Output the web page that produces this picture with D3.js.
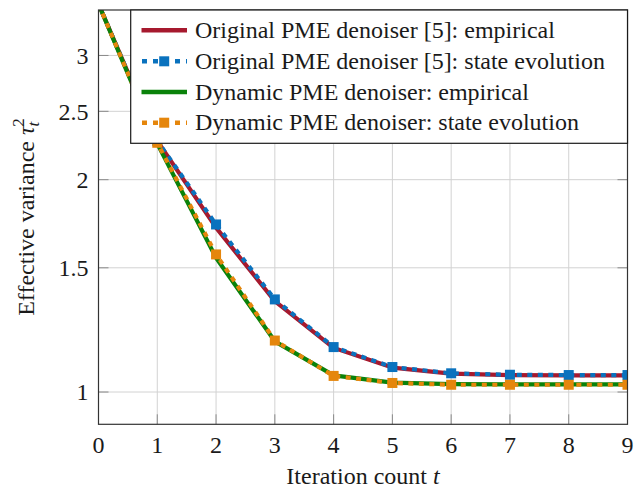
<!DOCTYPE html>
<html>
<head>
<meta charset="utf-8">
<script src="https://cdn.jsdelivr.net/npm/d3@7"></script>
</head>
<body style="margin:0">
<svg id="chart" width="634" height="487" style="display:block"></svg>
<script>
// ---- data ----
const iterations = [0, 1, 2, 3, 4, 5, 6, 7, 8, 9];
const origEmpirical = [3.55, 2.27, 1.71, 1.345, 1.155, 1.083, 1.062, 1.057, 1.056, 1.056];
const origStateEvolution = [3.55, 2.27, 1.728, 1.353, 1.158, 1.085, 1.063, 1.058, 1.057, 1.057];
const dynEmpirical = [3.55, 2.25, 1.55, 1.18, 1.056, 1.031, 1.026, 1.025, 1.025, 1.025];
const dynStateEvolution = [3.55, 2.256, 1.567, 1.183, 1.054, 1.030, 1.024, 1.024, 1.024, 1.024];
const xTicks = [0, 1, 2, 3, 4, 5, 6, 7, 8, 9];
const yTicks = [1, 1.5, 2, 2.5, 3];
const yTickLabels = ["1", "1.5", "2", "2.5", "3"];
const seriesNames = [
  "Original PME denoiser [5]: empirical",
  "Original PME denoiser [5]: state evolution",
  "Dynamic PME denoiser: empirical",
  "Dynamic PME denoiser: state evolution"
];

// ---- layout ----
const L = 98.5, R = 627.5, T = 10, B = 424.3;
const svg = d3.select("#chart");
const x = d3.scaleLinear().domain([0, 9]).range([L, R]);
const y = d3.scaleLog().domain([0.9, 3.48]).range([B, T]);

const series = [
  { name: seriesNames[0], values: origEmpirical, color: "#A6192E", dash: null, marker: false },
  { name: seriesNames[1], values: origStateEvolution, color: "#0A72BE", dash: "5,5.5", marker: true },
  { name: seriesNames[2], values: dynEmpirical, color: "#0A820A", dash: null, marker: false },
  { name: seriesNames[3], values: dynStateEvolution, color: "#E5860C", dash: "5,5.5", marker: true }
];

function serif(sel) {
  return sel.style("font-family", "\"Liberation Serif\"").style("font-size", "24px").attr("fill", "#1a1a1a");
}

// clip
svg.append("defs").append("clipPath").attr("id", "plotclip")
  .append("rect").attr("x", L).attr("y", T).attr("width", R - L).attr("height", B - T);

// grid
const grid = svg.append("g");
grid.selectAll("line.gx").data(xTicks).join("line")
  .attr("x1", d => x(d)).attr("x2", d => x(d)).attr("y1", T).attr("y2", B)
  .attr("stroke", "#d2d2d2").attr("stroke-width", 1);
grid.selectAll("line.gy").data(yTicks).join("line")
  .attr("x1", L).attr("x2", R).attr("y1", d => y(d)).attr("y2", d => y(d))
  .attr("stroke", "#d2d2d2").attr("stroke-width", 1);

// tick marks (inward, all sides)
const tk = svg.append("g").attr("stroke", "#8a8a8a").attr("stroke-width", 1);
const tl = 10;
xTicks.forEach(d => {
  tk.append("line").attr("x1", x(d)).attr("x2", x(d)).attr("y1", B).attr("y2", B - tl);
  tk.append("line").attr("x1", x(d)).attr("x2", x(d)).attr("y1", T).attr("y2", T + tl);
});
yTicks.forEach(d => {
  tk.append("line").attr("x1", L).attr("x2", L + tl).attr("y1", y(d)).attr("y2", y(d));
  tk.append("line").attr("x1", R).attr("x2", R - tl).attr("y1", y(d)).attr("y2", y(d));
});

// lines
const plot = svg.append("g").attr("clip-path", "url(#plotclip)");
const lineGen = d3.line().x((d, i) => x(iterations[i])).y(d => y(d));
series.forEach(s => {
  plot.append("path").attr("d", lineGen(s.values))
    .attr("fill", "none").attr("stroke", s.color).attr("stroke-width", 4.2)
    .attr("stroke-dasharray", s.dash).attr("stroke-linejoin", "round");
  if (s.marker) {
    plot.selectAll(null).data(s.values).join("rect")
      .attr("x", (d, i) => x(iterations[i]) - 5).attr("y", d => y(d) - 5)
      .attr("width", 10).attr("height", 10).attr("fill", s.color);
  }
});

// axis frame
svg.append("rect").attr("x", L).attr("y", T).attr("width", R - L).attr("height", B - T)
  .attr("fill", "none").attr("stroke", "#333").attr("stroke-width", 1.2);

// tick labels
xTicks.forEach(d => {
  serif(svg.append("text")).attr("x", x(d)).attr("y", 453).attr("text-anchor", "middle").text(d);
});
yTicks.forEach((d, i) => {
  serif(svg.append("text")).attr("x", 88.5).attr("y", y(d) + 8.3).attr("text-anchor", "end").text(yTickLabels[i]);
});

// axis labels
const xl = serif(svg.append("text")).attr("x", 363).attr("y", 483.5).attr("text-anchor", "middle");
xl.append("tspan").text("Iteration count ");
xl.append("tspan").style("font-style", "italic").text("t");

const yl = serif(svg.append("text")).attr("transform", "translate(33.5,217) rotate(-90)")
  .attr("text-anchor", "middle");
yl.append("tspan").text("Effective variance ");
yl.append("tspan").style("font-style", "italic").text("τ");
yl.append("tspan").style("font-style", "italic").style("font-size", "17px").attr("dy", 5).text("t");
yl.append("tspan").style("font-size", "17px").attr("dx", -5).attr("dy", -15).text("2");

// legend
const lg = svg.append("g");
lg.append("rect").attr("x", 130.7).attr("y", T).attr("width", R - 130.7).attr("height", 133.3)
  .attr("fill", "#fff").attr("stroke", "#1a1a1a").attr("stroke-width", 1.2);
const rowY = [30.3, 61.3, 92, 122.7];
series.forEach((s, i) => {
  const cy = rowY[i];
  lg.append("line").attr("x1", 141.5).attr("x2", 187).attr("y1", cy).attr("y2", cy)
    .attr("stroke", s.color).attr("stroke-width", 4.5)
    .attr("stroke-dasharray", s.dash ? "5,6" : null)
    .attr("stroke-dashoffset", s.dash ? -0.5 : null);
  if (s.marker) {
    lg.append("rect").attr("x", 164.2 - 5).attr("y", cy - 5).attr("width", 10).attr("height", 10).attr("fill", s.color);
  }
  serif(lg.append("text")).attr("x", 195).attr("y", cy + 7.6).text(s.name);
});
</script>
</body>
</html>
